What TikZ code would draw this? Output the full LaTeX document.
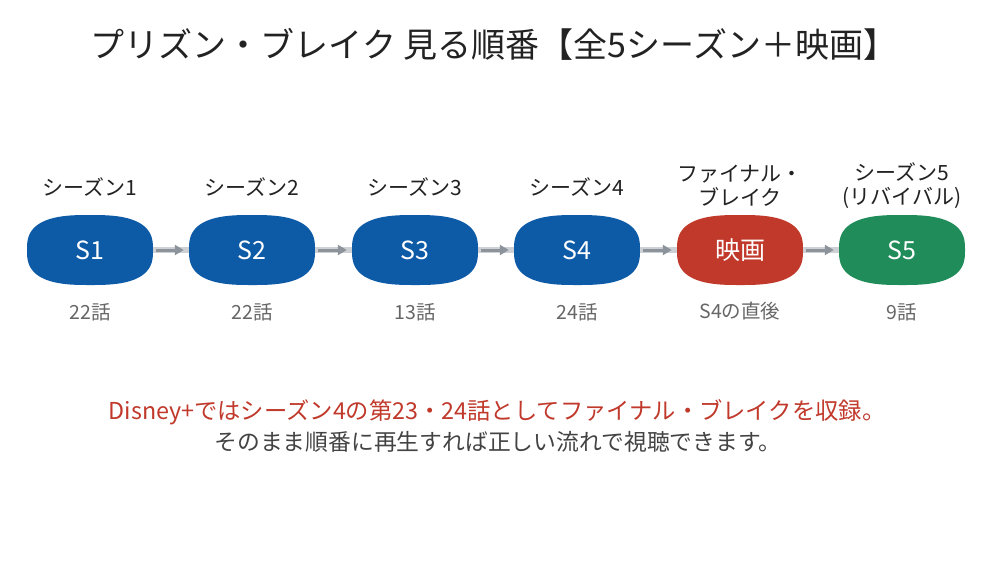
\documentclass[tikz,border=0pt]{standalone}
\usepackage{fontspec}
\setmainfont{Noto Sans CJK JP}
\usetikzlibrary{arrows.meta}
\usetikzlibrary{backgrounds}
\definecolor{sblue}{HTML}{0D5AA7}
\definecolor{sred}{HTML}{C0392B}
\definecolor{sgreen}{HTML}{1F8C5A}
\definecolor{bandgray}{HTML}{CDD1D6}
\definecolor{arrgray}{HTML}{8C939B}
\definecolor{inkdark}{HTML}{222222}
\definecolor{epgray}{HTML}{666666}
\tikzstyle{every node}=[inner sep=0pt]
\tikzstyle{season}=[minimum width=126pt,minimum height=70pt,text=white,font=\fontsize{25}{28}\selectfont]
\tikzstyle{toplabel}=[align=center,text=inkdark,font=\fontsize{21}{24}\selectfont]
\tikzstyle{eplabel}=[text=epgray,font=\fontsize{19.5}{22}\selectfont]
\tikzstyle{band}=[line width=6pt,bandgray]
\tikzstyle{arr}=[line width=3pt,arrgray,-{Triangle[length=9pt,width=10pt]}]

\begin{document}
\begin{tikzpicture}[x=1pt,y=-1pt]
\useasboundingbox (0,0) rectangle (993,566);

\node[text=inkdark,font=\fontsize{34}{40}\selectfont] (title) at (494,44) {プリズン・ブレイク 見る順番【全5シーズン＋映画】};

% seasons
\node[season] (s1) at (90,250) {S1};
\node[season] (s2) at (252,250) {S2};
\node[season] (s3) at (415,250) {S3};
\node[season] (s4) at (577,250) {S4};
\node[season] (mv) at (740,250) {映画};
\node[season] (s5) at (902,250) {S5};

% rounded blobs behind the labels
\begin{pgfonlayer}{background}
\foreach \n/\c in {s1/sblue,s2/sblue,s3/sblue,s4/sblue,mv/sred,s5/sgreen}
  \fill[\c,shift={(\n.center)}] plot[domain=0:360,samples=160]
    ({63*sign(cos(\x))*abs(cos(\x))^0.72},{35*sign(sin(\x))*abs(sin(\x))^0.72}) -- cycle;
\end{pgfonlayer}

\node[toplabel] (t1) at (90,187) {シーズン1};
\node[toplabel] (t2) at (252,187) {シーズン2};
\node[toplabel] (t3) at (415,187) {シーズン3};
\node[toplabel] (t4) at (577,187) {シーズン4};
\node[toplabel] (tm) at (740,186) {ファイナル・\\ブレイク};
\node[toplabel] (t5) at (902,186) {シーズン5\\(リバイバル)};

\node[eplabel] (e1) at (90,312) {22話};
\node[eplabel] (e2) at (252,312) {22話};
\node[eplabel] (e3) at (415,312) {13話};
\node[eplabel] (e4) at (577,312) {24話};
\node[eplabel] (em) at (740,311) {S4の直後};
\node[eplabel] (e5) at (902,312) {9話};

% connectors
\foreach \a/\b in {s1/s2,s2/s3,s3/s4,s4/mv,mv/s5} {
  \draw[band] (\a.east) -- (\b.west);
  \draw[arr] ([xshift=3pt]\a.east) -- ([xshift=-5pt]\b.west);
}

\node[text=sred,font=\fontsize{23.3}{27}\selectfont] (n1) at (497,412) {Disney+ではシーズン4の第23・24話としてファイナル・ブレイクを収録。};
\node[text=inkdark!85,font=\fontsize{22.8}{27}\selectfont] (n2) at (498,442) {そのまま順番に再生すれば正しい流れで視聴できます。};
\end{tikzpicture}
\end{document}
